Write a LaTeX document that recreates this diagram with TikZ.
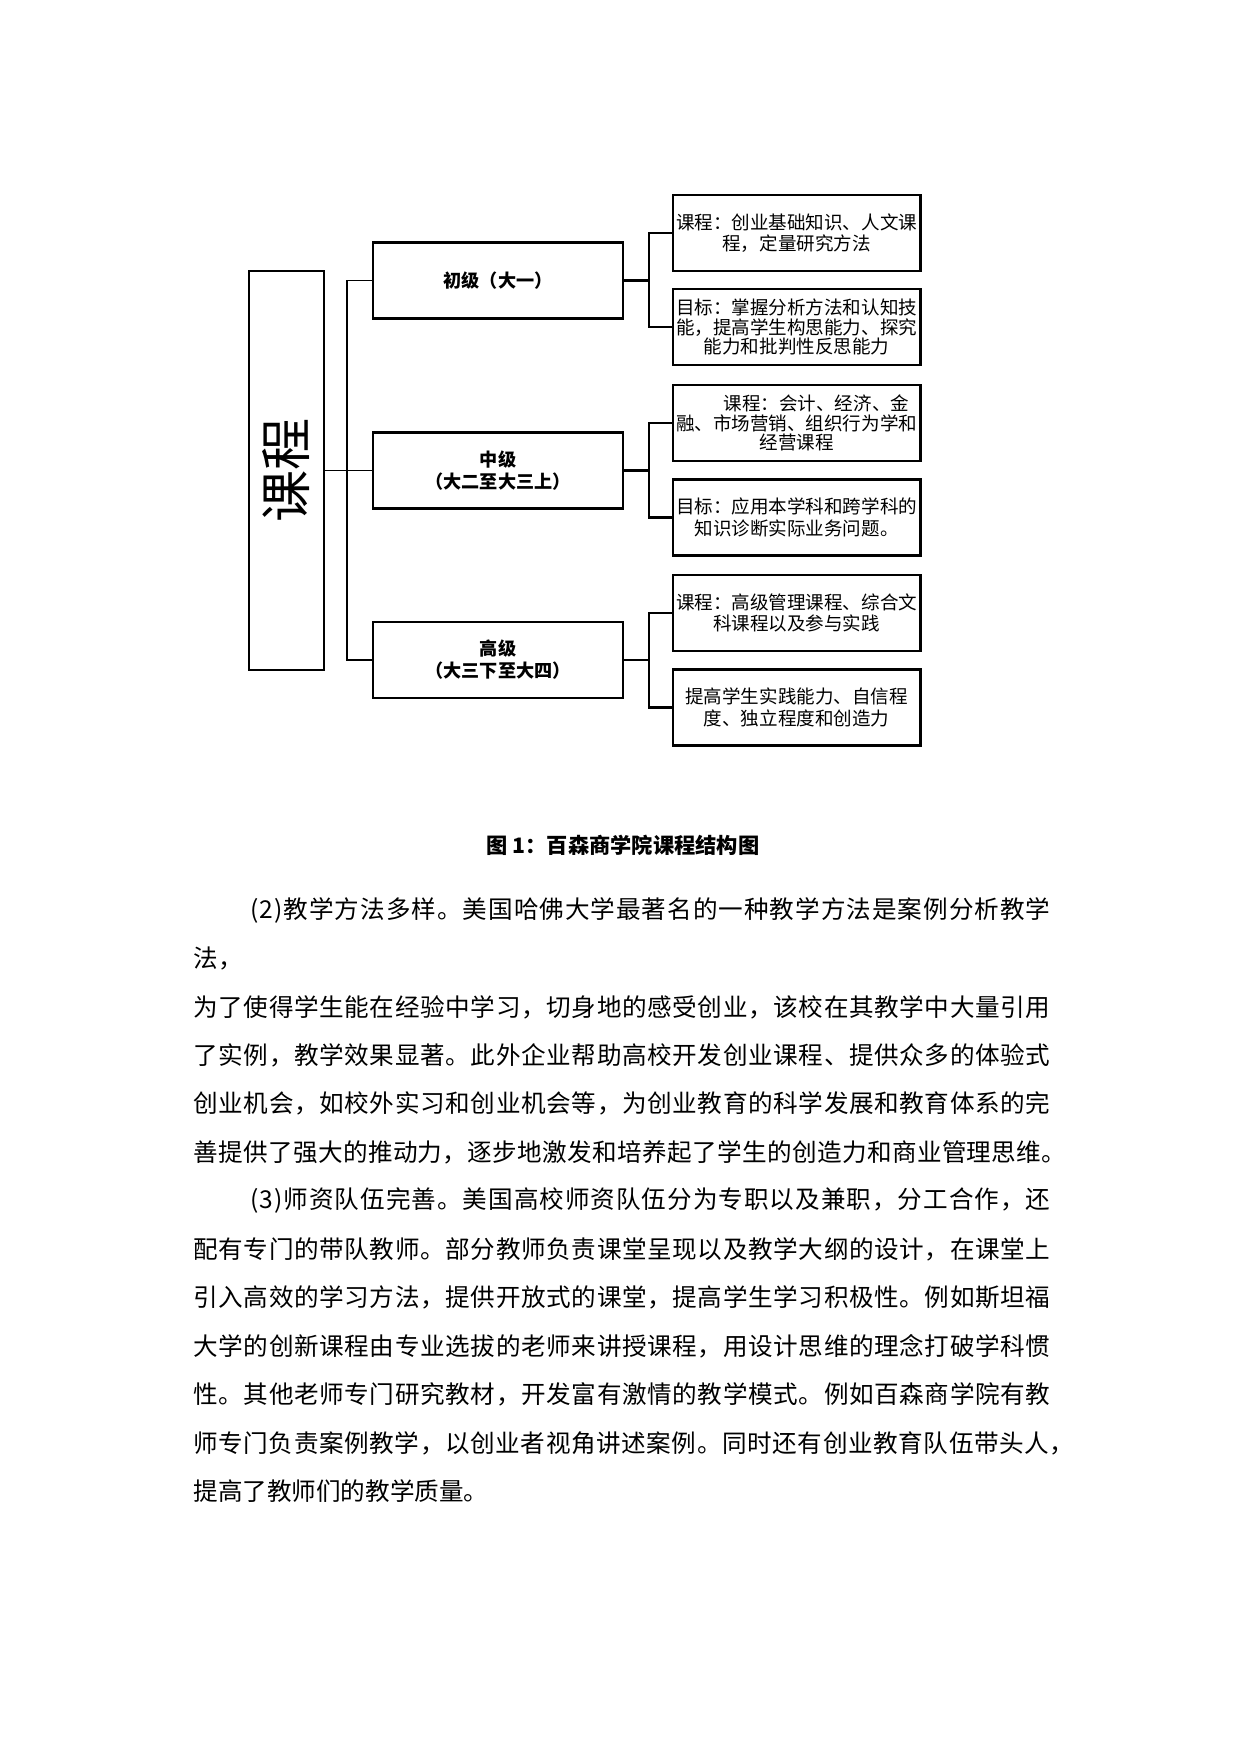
\documentclass[tikz,border=0pt]{standalone}
\usepackage{fontspec}
\setmainfont{Noto Sans CJK SC}
\newdimen\pxu \pxu=0.48pt
\def\jlA#1{#1\jlB}
\def\jlB#1{\ifx\relax#1\else\hfil#1\expandafter\jlB\fi}
\newcommand\jline[2]{\hbox to #1\pxu{\jlA#2\relax}}
\tikzset{
  bigbox/.style={draw, line width=0.7pt, minimum width=36pt, minimum height=191.5pt, inner sep=0pt},
  lvlbox/.style={draw, line width=1.1pt, minimum width=120pt, minimum height=36.5pt, inner sep=0pt,
    align=center, font=\fontsize{8.7pt}{10.5pt}\selectfont\bfseries},
  detbox/.style={draw, line width=1.1pt, minimum width=119pt, minimum height=36.5pt, inner sep=0pt,
    text width=117pt, align=center, font=\fontsize{8.9pt}{10.2pt}\selectfont},
  tree/.style={line width=0.7pt},
  brk/.style={line width=1.1pt},
  body/.style={anchor=west, inner sep=0pt, font=\fontsize{11.8pt}{14pt}\selectfont},
  captxt/.style={inner sep=0pt, font=\fontsize{10.2pt}{12pt}\selectfont\bfseries}
}
\begin{document}
\begin{tikzpicture}[x=0.48pt,y=-0.48pt]
\useasboundingbox (0,0) rectangle (1240,1754);
\fill[white] (0,0) rectangle (1240,1754);
% diagram
\node[bigbox] (big) at (286.5,470.5) {};
\node[rotate=90, inner sep=0pt, font=\fontsize{25pt}{28pt}\selectfont] (bigtxt) at (big.center) {课程};
\node[lvlbox] (L1) at (498,280.5) {初级（大一）};
\node[lvlbox] (L2) at (498,470.5) {中级\\（大二至大三上）};
\node[lvlbox] (L3) at (498,660) {高级\\（大三下至大四）};
\node[detbox] (D1) at (796.6,233) {课程：创业基础知识、人文课\\程，定量研究方法};
\node[detbox, font=\fontsize{8.9pt}{9.3pt}\selectfont] (D2) at (796.6,327) {目标：掌握分析方法和认知技\\能，提高学生构思能力、探究\\能力和批判性反思能力};
\node[detbox, font=\fontsize{8.9pt}{9.5pt}\selectfont] (D3) at (796.6,423) {\hspace*{19pt}课程：会计、经济、金\\融、市场营销、组织行为学和\\经营课程};
\node[detbox] (D4) at (796.6,517.5) {目标：应用本学科和跨学科的\\知识诊断实际业务问题。};
\node[detbox] (D5) at (796.6,613) {课程：高级管理课程、综合文\\科课程以及参与实践};
\node[detbox] (D6) at (796.6,707.5) {提高学生实践能力、自信程\\度、独立程度和创造力};
% connectors
\draw[tree] (big.east) -- (L2.west);
\draw[tree] (L1.west) -- ++(-25,0) |- (L3.west);
\draw[brk] (L1.east) -- ++(25,0) |- (D1.west);
\draw[brk] (L1.east) -- ++(25,0) |- (D2.west);
\draw[brk] (L2.east) -- ++(25,0) |- (D3.west);
\draw[brk] (L2.east) -- ++(25,0) |- (D4.west);
\draw[brk] (L3.east) -- ++(25,0) |- (D5.west);
\draw[brk] (L3.east) -- ++(25,0) |- (D6.west);
% caption
\node[captxt] (cap) at (623,845) {图 1：百森商学院课程结构图};
% body text
\node[body] (t0) at (250,910) {\jline{800}{(2)教学方法多样。美国哈佛大学最著名的一种教学方法是案例分析教学}};
\node[body] (t1) at (193,958.4) {法，};
\node[body] (t2) at (193,1006.9) {\jline{857}{为了使得学生能在经验中学习，切身地的感受创业，该校在其教学中大量引用}};
\node[body] (t3) at (193,1055.3) {\jline{857}{了实例，教学效果显著。此外企业帮助高校开发创业课程、提供众多的体验式}};
\node[body] (t4) at (193,1103.8) {\jline{857}{创业机会，如校外实习和创业机会等，为创业教育的科学发展和教育体系的完}};
\node[body] (t5) at (193,1152.2) {\jline{873}{善提供了强大的推动力，逐步地激发和培养起了学生的创造力和商业管理思维。}};
\node[body] (t6) at (250,1200.7) {\jline{800}{(3)师资队伍完善。美国高校师资队伍分为专职以及兼职，分工合作，还}};
\node[body] (t7) at (193,1249.1) {\jline{857}{配有专门的带队教师。部分教师负责课堂呈现以及教学大纲的设计，在课堂上}};
\node[body] (t8) at (193,1297.6) {\jline{857}{引入高效的学习方法，提供开放式的课堂，提高学生学习积极性。例如斯坦福}};
\node[body] (t9) at (193,1346) {\jline{857}{大学的创新课程由专业选拔的老师来讲授课程，用设计思维的理念打破学科惯}};
\node[body] (t10) at (193,1394.5) {\jline{857}{性。其他老师专门研究教材，开发富有激情的教学模式。例如百森商学院有教}};
\node[body] (t11) at (193,1442.9) {\jline{881}{师专门负责案例教学，以创业者视角讲述案例。同时还有创业教育队伍带头人，}};
\node[body] (t12) at (193,1491.4) {提高了教师们的教学质量。};
\end{tikzpicture}
\end{document}
